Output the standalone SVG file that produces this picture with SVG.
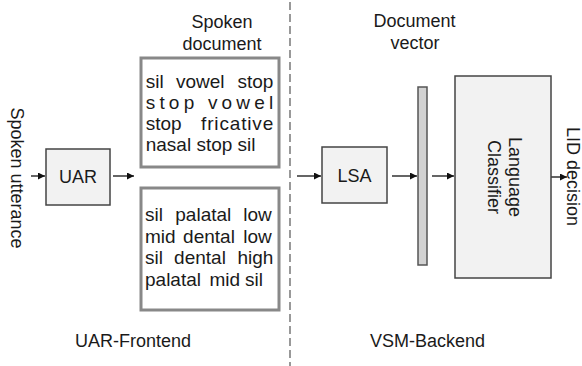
<svg xmlns="http://www.w3.org/2000/svg" width="582" height="366" viewBox="0 0 582 366">
<defs>
<style>
text{font-family:"Liberation Sans",Arial,sans-serif;font-size:18px;fill:#1a1a1a}
.w{font-size:19px}
.blk{fill:#f2f2f2;stroke:#444;stroke-width:1.5}
.doc{fill:#fff;stroke:#888;stroke-width:3}
.bar{fill:#d2d2d2;stroke:#555;stroke-width:1.5}
.arr{stroke:#111;stroke-width:1.3;fill:none;marker-end:url(#ah)}
.mid{text-anchor:middle}
.end{text-anchor:end}
</style>
<marker id="ah" viewBox="0 0 10 10" refX="10" refY="5" markerWidth="8" markerHeight="7" markerUnits="userSpaceOnUse" orient="auto">
<path d="M0,0 L10,5 L0,10 z" fill="#111"/>
</marker>
</defs>
<line x1="290" y1="2" x2="290" y2="366" stroke="#555" stroke-width="1.2" stroke-dasharray="8 4"/>
<g id="connectors">
<line class="arr" x1="31" y1="176" x2="45" y2="176"/>
<line class="arr" x1="113" y1="176" x2="134" y2="176"/>
<line class="arr" x1="297" y1="176" x2="321" y2="176"/>
<line class="arr" x1="392" y1="176" x2="417" y2="176"/>
<line class="arr" x1="432" y1="176" x2="454" y2="176"/>
<line class="arr" x1="551" y1="177" x2="567" y2="177"/>
</g>
<g id="input-label"><text class="mid" dominant-baseline="central" transform="translate(17,178) rotate(90)">Spoken utterance</text></g>
<g id="uar"><rect class="blk" x="46" y="149" width="64" height="56"/><text class="mid" x="78" y="183">UAR</text></g>
<g id="doc-title"><text class="mid" x="222" y="28">Spoken</text><text class="mid" x="222" y="50">document</text></g>
<g id="doc1"><rect class="doc" x="141" y="58" width="138" height="109"/>
<text class="w" x="145.7" y="88">sil</text>
<text class="w mid" x="200.3" y="88">vowel</text>
<text class="w end" x="273.3" y="88">stop</text>
<text class="w" x="145.7" y="108.5" textLength="127.6" lengthAdjust="spacing">stop vowel</text>
<text class="w" x="145.7" y="130">stop</text>
<text class="w" x="201" y="130" textLength="72.3" lengthAdjust="spacing">fricative</text>
<text class="w" x="145.7" y="150.7">nasal stop sil</text>
</g>
<g id="doc2"><rect class="doc" x="141" y="188" width="138" height="122"/>
<text class="w" x="145" y="221">sil</text>
<text class="w mid" x="203.3" y="221">palatal</text>
<text class="w end" x="271.7" y="221">low</text>
<text class="w" x="145" y="242.7">mid</text>
<text class="w mid" x="209" y="242.7">dental</text>
<text class="w end" x="271.7" y="242.7">low</text>
<text class="w" x="145" y="263.8">sil</text>
<text class="w mid" x="200" y="263.8">dental</text>
<text class="w end" x="273.3" y="263.8">high</text>
<text class="w" x="145" y="286">palatal</text>
<text class="w" x="209.5" y="286">mid</text>
<text class="w" x="245" y="286">sil</text>
</g>
<g id="frontend-label"><text class="mid" x="133" y="347">UAR-Frontend</text></g>
<g id="lsa"><rect class="blk" x="322" y="147" width="65" height="56"/><text class="mid" x="354.5" y="182">LSA</text></g>
<g id="vec-title"><text class="mid" x="414.5" y="27">Document</text><text class="mid" x="415" y="49">vector</text></g>
<g id="vector"><rect class="bar" x="418" y="87" width="9" height="178"/></g>
<g id="classifier"><rect class="blk" x="455" y="76" width="96" height="202"/>
<text class="mid" dominant-baseline="central" transform="translate(515,177) rotate(90)">Language</text>
<text class="mid" dominant-baseline="central" transform="translate(494,177) rotate(90)">Classifier</text>
</g>
<g id="output-label"><text class="mid" dominant-baseline="central" transform="translate(573,176.5) rotate(90)">LID decision</text></g>
<g id="backend-label"><text class="mid" x="427.5" y="347">VSM-Backend</text></g>
</svg>
